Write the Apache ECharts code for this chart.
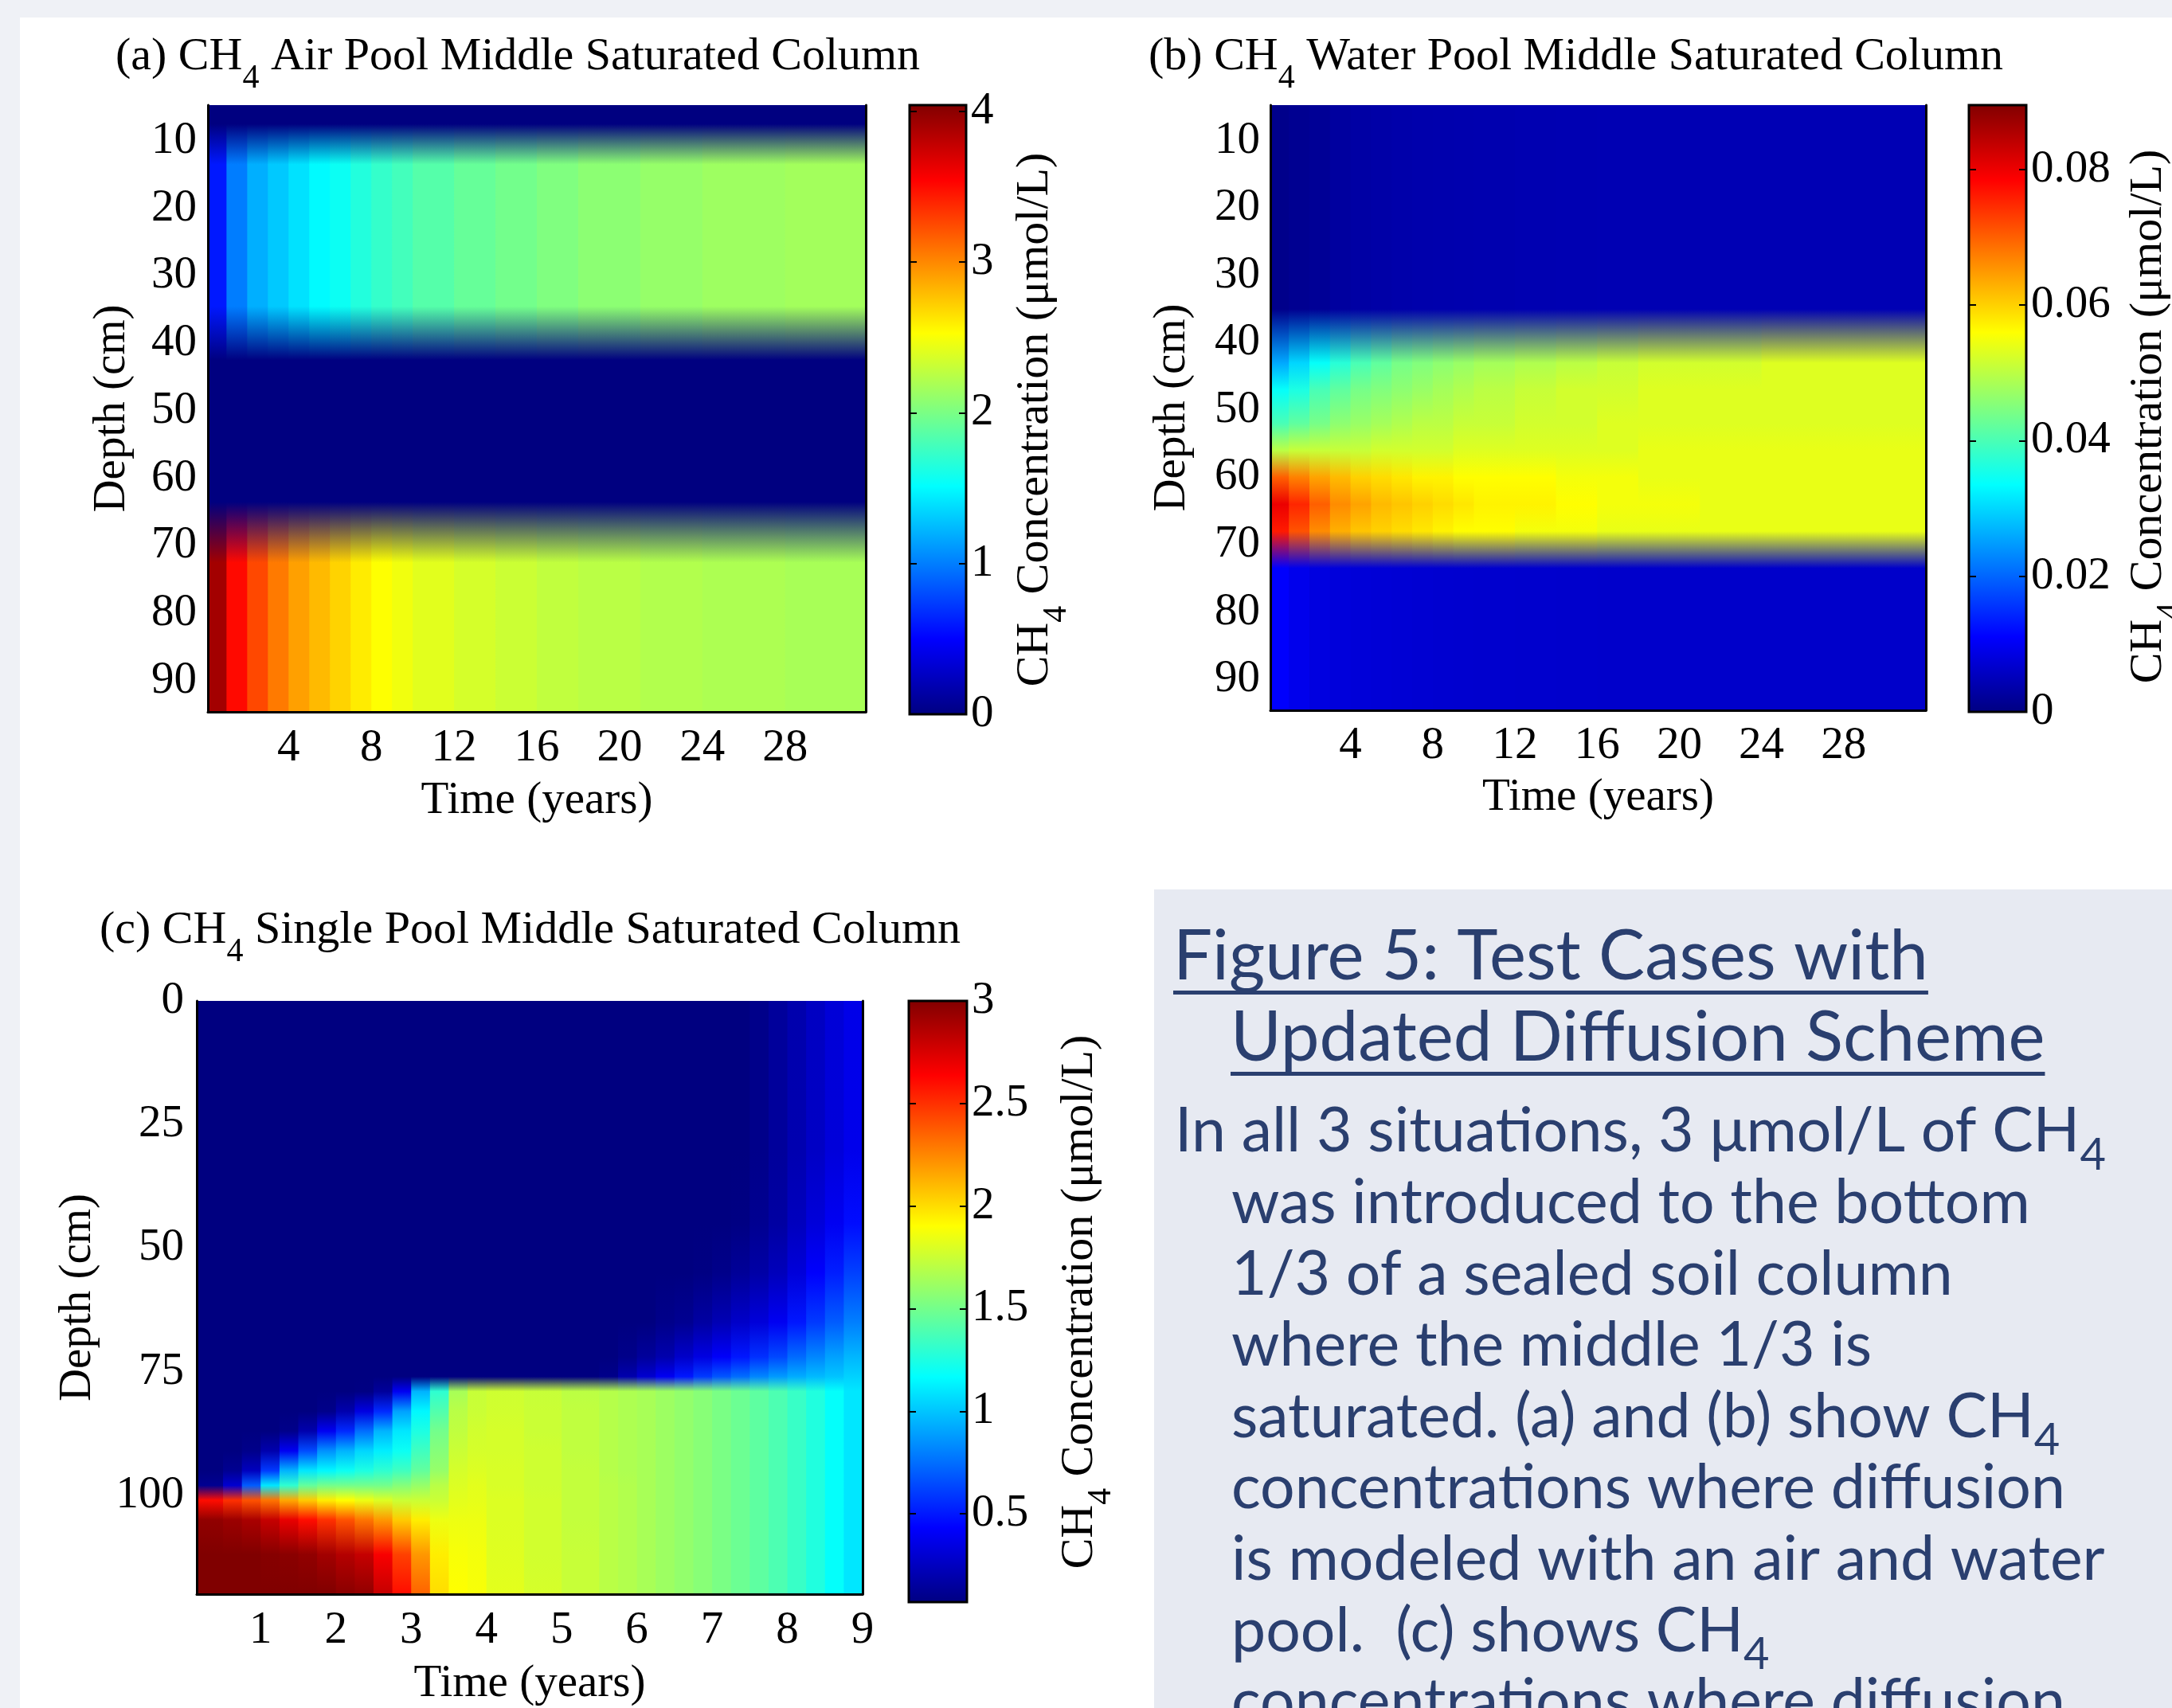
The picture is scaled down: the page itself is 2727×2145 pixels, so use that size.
<!DOCTYPE html>
<html><head><meta charset="utf-8">
<script src="https://cdn.jsdelivr.net/npm/echarts@6.0.0/dist/echarts.min.js"></script>
<style>html,body{margin:0;padding:0;background:#EFF1F6;}#main{width:2727px;height:2145px;}</style>
</head><body><div id="main"></div>
<script>
// ---------------- DATA ----------------
// Panel (a): CH4 air pool. Columns = time intervals (years), values at depth knots (cm), µmol/L
const timeEdgesA = [0.1,1,2,3,4,5,6,7,8,9,10,12,14,16,18,21,24,28,31.9];
const depthKnotsA = [7.5,13.5,34.5,42.5,63.5,72.5];
const concA = [
  [0,0.60,0.60,0,0,3.90],
  [0,1.00,1.00,0,0,3.50],
  [0,1.20,1.20,0,0,3.25],
  [0,1.30,1.30,0,0,3.05],
  [0,1.40,1.40,0,0,2.90],
  [0,1.50,1.50,0,0,2.80],
  [0,1.56,1.56,0,0,2.70],
  [0,1.65,1.65,0,0,2.60],
  [0,1.72,1.72,0,0,2.52],
  [0,1.78,1.78,0,0,2.47],
  [0,1.85,1.85,0,0,2.41],
  [0,1.92,1.92,0,0,2.36],
  [0,1.97,1.97,0,0,2.32],
  [0,2.02,2.02,0,0,2.28],
  [0,2.07,2.07,0,0,2.25],
  [0,2.11,2.11,0,0,2.22],
  [0,2.14,2.14,0,0,2.20],
  [0,2.16,2.16,0,0,2.18]
];
// Panel (b): CH4 water pool
const timeEdgesB = [0.1,1,2,3,4,5,6,7,8,9,10,12,14,16,18,21,24,28,32];
const depthKnotsB = [35,43,47,52,56,60,64,68,73.5];
const concB = [
  [0.0010,0.026,0.034,0.040,0.050,0.070,0.080,0.076,0.0110],
  [0.0015,0.030,0.036,0.042,0.051,0.067,0.075,0.071,0.0095],
  [0.0020,0.034,0.040,0.044,0.051,0.064,0.070,0.066,0.0085],
  [0.0028,0.037,0.042,0.046,0.051,0.062,0.066,0.063,0.0080],
  [0.0032,0.040,0.044,0.047,0.051,0.060,0.064,0.061,0.0078],
  [0.0035,0.042,0.045,0.048,0.052,0.059,0.062,0.060,0.0076],
  [0.0037,0.044,0.046,0.049,0.052,0.058,0.061,0.059,0.0074],
  [0.0039,0.045,0.047,0.050,0.052,0.057,0.060,0.058,0.0072],
  [0.0040,0.046,0.048,0.050,0.052,0.057,0.059,0.057,0.0071],
  [0.0041,0.047,0.049,0.051,0.053,0.056,0.058,0.056,0.0070],
  [0.0042,0.048,0.050,0.051,0.053,0.056,0.057,0.056,0.0069],
  [0.0043,0.049,0.051,0.052,0.053,0.056,0.057,0.055,0.0068],
  [0.0044,0.050,0.052,0.052,0.053,0.055,0.056,0.055,0.0067],
  [0.0045,0.051,0.052,0.053,0.053,0.055,0.055,0.054,0.0066],
  [0.0045,0.052,0.053,0.053,0.054,0.054,0.055,0.054,0.0066],
  [0.0046,0.052,0.053,0.053,0.054,0.054,0.054,0.054,0.0065],
  [0.0046,0.053,0.053,0.053,0.054,0.054,0.054,0.054,0.0065],
  [0.0046,0.053,0.053,0.053,0.054,0.054,0.054,0.054,0.0065]
];
// Panel (c): CH4 single pool
const timeEdgesC = [0.15,0.5,0.75,1,1.25,1.5,1.75,2,2.25,2.5,2.75,3,3.25,3.5,3.75,4,4.5,5,5.5,
                    5.75,6,6.25,6.5,6.75,7,7.25,7.5,7.75,8,8.25,8.5,8.75,9];
const depthKnotsC = [0,30,45,55,65,72,76,79,83,87,91,95,98,101,105,112,120];
const N = 0.07;
const concC = [
  [N,N,N,N,N,N,N, N,N,N,N,N,0.12,2.60,2.95,3.00,3.00],
  [N,N,N,N,N,N,N, N,N,N,N,0.12,0.30,2.50,2.92,3.00,3.00],
  [N,N,N,N,N,N,N, N,N,N,0.10,0.25,0.70,2.40,2.88,3.00,3.00],
  [N,N,N,N,N,N,N, N,N,N,0.20,0.60,1.10,2.30,2.80,2.98,3.00],
  [N,N,N,N,N,N,N, N,N,0.10,0.40,0.95,1.30,2.15,2.70,2.97,3.00],
  [N,N,N,N,N,N,N, N,N,0.20,0.65,1.10,1.45,2.05,2.60,2.95,3.00],
  [N,N,N,N,N,N,N, N,0.10,0.40,0.85,1.15,1.50,1.95,2.50,2.90,3.00],
  [N,N,N,N,N,N,N, N,0.20,0.55,0.95,1.20,1.50,1.90,2.40,2.85,2.97],
  [N,N,N,N,N,N,N, 0.08,0.35,0.75,1.05,1.25,1.50,1.85,2.30,2.80,2.95],
  [N,N,N,N,N,N,N, 0.15,0.55,0.95,1.12,1.30,1.50,1.80,2.20,2.65,2.80],
  [N,N,N,N,N,N,N, 0.40,0.90,1.10,1.20,1.35,1.55,1.75,2.05,2.45,2.60],
  [N,N,N,N,N,N,N, 0.95,1.15,1.25,1.35,1.45,1.60,1.75,1.95,2.20,2.35],
  [N,N,N,N,N,N,N, 1.30,1.40,1.50,1.55,1.60,1.70,1.75,1.85,1.95,2.00],
  [N,N,N,N,N,N,N, 1.65,1.70,1.72,1.75,1.78,1.80,1.82,1.85,1.88,1.90],
  [N,N,N,N,N,N,N, 1.74,1.75,1.77,1.78,1.80,1.82,1.83,1.85,1.87,1.88],
  [N,N,N,N,N,N,N, 1.76,1.77,1.78,1.78,1.79,1.79,1.80,1.80,1.81,1.82],
  [N,N,N,N,N,N,N, 1.74,1.75,1.75,1.76,1.76,1.76,1.77,1.77,1.77,1.78],
  [N,N,N,N,N,N,N, 1.71,1.72,1.72,1.72,1.73,1.73,1.73,1.73,1.74,1.74],
  [N,N,N,N,N,N,0.10, 1.69,1.69,1.69,1.69,1.69,1.70,1.70,1.70,1.70,1.70],
  [N,N,N,N,N,0.10,0.20, 1.67,1.67,1.67,1.67,1.67,1.68,1.68,1.68,1.68,1.68],
  [N,N,N,N,N,0.15,0.30, 1.65,1.65,1.65,1.65,1.65,1.65,1.65,1.65,1.65,1.65],
  [N,N,N,N,0.10,0.20,0.40, 1.62,1.62,1.62,1.62,1.62,1.62,1.62,1.62,1.62,1.62],
  [N,N,N,N,0.12,0.28,0.50, 1.59,1.59,1.59,1.59,1.59,1.59,1.59,1.59,1.59,1.59],
  [N,N,N,0.08,0.17,0.35,0.60, 1.56,1.56,1.56,1.56,1.56,1.56,1.56,1.56,1.56,1.56],
  [N,N,N,0.10,0.22,0.42,0.68, 1.52,1.52,1.52,1.52,1.52,1.52,1.52,1.52,1.52,1.52],
  [N,N,0.08,0.14,0.28,0.50,0.75, 1.48,1.48,1.48,1.48,1.48,1.48,1.48,1.48,1.48,1.48],
  [0.10,0.10,0.12,0.18,0.33,0.57,0.82, 1.44,1.44,1.44,1.44,1.44,1.44,1.44,1.44,1.44,1.44],
  [0.15,0.15,0.17,0.24,0.40,0.64,0.88, 1.39,1.39,1.39,1.39,1.39,1.39,1.39,1.39,1.39,1.39],
  [0.20,0.21,0.25,0.33,0.50,0.74,0.93, 1.33,1.33,1.33,1.33,1.33,1.33,1.33,1.33,1.33,1.33],
  [0.26,0.27,0.33,0.43,0.60,0.82,0.97, 1.26,1.26,1.26,1.26,1.26,1.26,1.26,1.26,1.26,1.26],
  [0.32,0.33,0.40,0.52,0.70,0.90,1.00, 1.18,1.18,1.18,1.18,1.18,1.18,1.18,1.18,1.18,1.18],
  [0.37,0.38,0.47,0.62,0.80,0.96,1.04, 1.10,1.10,1.10,1.10,1.10,1.10,1.10,1.10,1.10,1.10]
];
// Tick labels
const timeTicksAB = [4,8,12,16,20,24,28];
const depthTicksAB = [10,20,30,40,50,60,70,80,90];
const timeTicksC = [1,2,3,4,5,6,7,8,9];
const depthTicksC = [0,25,50,75,100];
const cbarTicksA = [0,1,2,3,4];
const cbarTicksB = [0,0.02,0.04,0.06,0.08];
const cbarTicksC = [0.5,1,1.5,2,2.5,3];
// Colour-scale ranges
const cbarRangeA = [0,4.04];
const cbarRangeB = [0,0.0895];
const cbarRangeC = [0.07,3];
// Texts
const titleA = ['(a) CH','4',' Air Pool Middle Saturated Column'];
const titleB = ['(b) CH','4',' Water Pool Middle Saturated Column'];
const titleC = ['(c) CH','4',' Single Pool Middle Saturated Column'];
const cbarTitle = ['CH','4',' Concentration (μmol/L)'];
const captionHead = ['Figure 5: Test Cases with','Updated Diffusion Scheme'];
const captionBody = [
  ['In all 3 situations, 3 μmol/L of CH','4'],
  ['was introduced to the bottom'],
  ['1/3 of a sealed soil column'],
  ['where the middle 1/3 is'],
  ['saturated. (a) and (b) show CH','4'],
  ['concentrations where diffusion'],
  ['is modeled with an air and water'],
  ['pool.  (c) shows CH','4'],
  ['concentrations where diffusion']
];

// ---------------- STYLE / BUILD ----------------
const SERIF = 'Liberation Serif';
const SANS = 'Lato';
const INK = '#2A3F6F';
const FS = 57;

function jet(f){
  f = Math.max(0, Math.min(1, f));
  const c = v => Math.round(255*Math.max(0, Math.min(1, v)));
  return 'rgb(' + c(Math.min(4*f-1.5, -4*f+4.5)) + ',' + c(Math.min(4*f-0.5, -4*f+3.5)) + ',' + c(Math.min(4*f+0.5, -4*f+2.5)) + ')';
}
const clamp01 = v => Math.max(0, Math.min(1, v));

function heatSeries(xi, yi, edges, knots, conc, crange, yr){
  return {
    type:'custom', coordinateSystem:'cartesian2d', xAxisIndex:xi, yAxisIndex:yi, silent:true, z:1,
    data: conc.map((col,i)=>[edges[i], edges[i+1], i]),
    renderItem: function(params, api){
      const i = api.value(2);
      const p0 = api.coord([api.value(0), yr[0]]);
      const p1 = api.coord([api.value(1), yr[1]]);
      const cs = params.coordSys;
      const x0 = Math.max(Math.min(p0[0],p1[0]), cs.x);
      const x1 = Math.min(Math.max(p0[0],p1[0]), cs.x+cs.width);
      const y0 = Math.min(p0[1],p1[1]), y1 = Math.max(p0[1],p1[1]);
      const stops = knots.map((d,k)=>({
        offset: clamp01((d-yr[0])/(yr[1]-yr[0])),
        color: jet((conc[i][k]-crange[0])/(crange[1]-crange[0]))
      }));
      return {type:'rect', shape:{x:x0, y:y0, width:Math.min(x1-x0+1.5, cs.x+cs.width-x0), height:y1-y0},
        style:{fill:new echarts.graphic.LinearGradient(0,0,0,1,stops)}};
    }
  };
}
function cbarSeries(xi, yi, crange){
  const jetStops = [0,0.125,0.375,0.625,0.875,1].map(f=>({offset:f, color:jet(f)}));
  return {
    type:'custom', coordinateSystem:'cartesian2d', xAxisIndex:xi, yAxisIndex:yi, silent:true, z:1,
    data:[[crange[0], crange[1]]],
    renderItem: function(params, api){
      const p0 = api.coord([0, api.value(1)]);
      const p1 = api.coord([1, api.value(0)]);
      return {type:'rect', shape:{x:p0[0], y:p0[1], width:p1[0]-p0[0], height:p1[1]-p0[1]},
        style:{fill:new echarts.graphic.LinearGradient(0,1,0,0,jetStops), stroke:'#000', lineWidth:3}};
    }
  };
}
const lbl = {fontFamily:SERIF, fontSize:FS, color:'#000'};
function plotX(g, min, max, ticks, margin, gap){
  return {gridIndex:g, type:'value', min, max, z:5,
    axisLine:{show:true, onZero:false, lineStyle:{color:'#000', width:3}},
    axisTick:{show:false}, splitLine:{show:false},
    axisLabel:Object.assign({customValues:ticks, margin}, lbl),
    name:'Time (years)', nameLocation:'middle', nameGap:gap, nameTextStyle:lbl};
}
function plotY(g, min, max, ticks, margin, gap){
  return {gridIndex:g, type:'value', min, max, inverse:true, position:'left', z:5,
    axisLine:{show:true, onZero:false, lineStyle:{color:'#000', width:3}},
    axisTick:{show:false}, splitLine:{show:false},
    axisLabel:Object.assign({customValues:ticks, margin}, lbl),
    name:'Depth (cm)', nameLocation:'middle', nameGap:gap, nameTextStyle:lbl};
}
function plotYR(g, min, max){
  return {gridIndex:g, type:'value', min, max, inverse:true, position:'right', z:5,
    axisLine:{show:true, onZero:false, lineStyle:{color:'#000', width:3}},
    axisTick:{show:false}, splitLine:{show:false}, axisLabel:{show:false}};
}
function cbX(g){ return {gridIndex:g, type:'value', min:0, max:1, show:false}; }
function cbYL(g, r, ticks){
  return {gridIndex:g, type:'value', min:r[0], max:r[1], position:'left', z:5,
    axisLine:{show:false}, splitLine:{show:false}, axisLabel:{show:false},
    axisTick:{show:true, inside:true, length:9, customValues:ticks, lineStyle:{color:'#000', width:2}}};
}
function cbYR(g, r, ticks){
  return {gridIndex:g, type:'value', min:r[0], max:r[1], position:'right', z:5,
    axisLine:{show:false}, splitLine:{show:false},
    axisTick:{show:true, inside:true, length:9, customValues:ticks, lineStyle:{color:'#000', width:2}},
    axisLabel:Object.assign({customValues:ticks, margin:6}, lbl)};
}

const yrA = [4.7,94.6], yrB = [4.7,94.6], yrC = [0,120];

// graphic texts
const richG = {
  m:{fontFamily:SERIF, fontSize:58, lineHeight:66, verticalAlign:'top', fill:'#000'},
  s:{fontFamily:SERIF, fontSize:42, lineHeight:112, fill:'#000'}
};
function richText(parts){ return '{m|'+parts[0]+'}{s|'+parts[1]+'}{m|'+parts[2]+'}'; }
function titleEl(parts, x, yCenter){
  return {type:'text', x, y:yCenter-33, z:50, silent:true,
    style:{text:richText(parts), rich:richG, verticalAlign:'top', align:'left'}};
}
// rotated colour-bar title: xCenter = centre of main glyph column, yCenter = centre along text
function cbarTitleEl(xCenter, yCenter){
  return {type:'text', x:xCenter-28, y:yCenter, rotation:Math.PI/2, z:50, silent:true,
    style:{text:richText(cbarTitle), rich:richG, verticalAlign:'top', align:'center'}};
}
const mctx = document.createElement('canvas').getContext('2d');
function textW(str, font){ mctx.font = font; return mctx.measureText(str).width; }

const HEAD_FS = 87, BODY_FS = 77;
const elements = [
  {type:'rect', z:-10, silent:true, shape:{x:25, y:22, width:2702, height:2123}, style:{fill:'#FFFFFF'}},
  {type:'rect', z:-9, silent:true, shape:{x:1449, y:1117, width:1278, height:1028}, style:{fill:'#E7EAF2'}},
  titleEl(titleA, 145, 76),
  titleEl(titleB, 1442, 76),
  titleEl(titleC, 125, 1173),
  cbarTitleEl(1299, 527),
  cbarTitleEl(2697, 523),
  cbarTitleEl(1355, 1635)
];
const headX = [1473, 1545], headBase = [1236, 1338];
captionHead.forEach((t,i)=>{
  elements.push({type:'text', x:headX[i], y:headBase[i]-34, z:50, silent:true,
    style:{text:t, fontFamily:SANS, fontSize:HEAD_FS, fill:INK, verticalAlign:'middle', align:'left'}});
  const w = textW(t, HEAD_FS+'px '+SANS);
  elements.push({type:'rect', z:50, silent:true, shape:{x:headX[i], y:headBase[i]+8, width:w, height:5}, style:{fill:INK}});
});
const bodyRich = {
  m:{fontFamily:SANS, fontSize:BODY_FS, lineHeight:90, verticalAlign:'top', fill:INK},
  s:{fontFamily:SANS, fontSize:56, lineHeight:136, fill:INK}
};
captionBody.forEach((p,i)=>{
  const base = 1458 + 89.6*i;
  let txt = '{m|'+p[0]+'}';
  if (p[1]) txt += '{s|'+p[1]+'}';
  elements.push({type:'text', x:(i===0?1475:1546), y:base-30-45, z:50, silent:true,
    style:{text:txt, rich:bodyRich, verticalAlign:'top', align:'left'}});
});

const option = {
  backgroundColor:'#EFF1F6',
  animation:false,
  grid:[
    {left:261, top:132, width:826, height:762},
    {left:1142, top:132, width:71, height:765},
    {left:1595, top:132, width:823, height:760},
    {left:2472, top:132, width:72, height:762},
    {left:247, top:1257, width:836, height:752},
    {left:1141, top:1257, width:73, height:755}
  ],
  xAxis:[
    plotX(0, 0.1, 31.9, timeTicksAB, 18, 84),
    cbX(1),
    plotX(2, 0.1, 32, timeTicksAB, 17, 82),
    cbX(3),
    plotX(4, 0.15, 9, timeTicksC, 18, 85),
    cbX(5)
  ],
  yAxis:[
    plotY(0, yrA[0], yrA[1], depthTicksAB, 14, 91),
    plotYR(0, yrA[0], yrA[1]),
    cbYL(1, cbarRangeA, cbarTicksA),
    cbYR(1, cbarRangeA, cbarTicksA),
    plotY(2, yrB[0], yrB[1], depthTicksAB, 13, 94),
    plotYR(2, yrB[0], yrB[1]),
    cbYL(3, cbarRangeB, cbarTicksB),
    cbYR(3, cbarRangeB, cbarTicksB),
    plotY(4, yrC[0], yrC[1], depthTicksC, 16, 120),
    plotYR(4, yrC[0], yrC[1]),
    cbYL(5, cbarRangeC, cbarTicksC),
    cbYR(5, cbarRangeC, cbarTicksC)
  ],
  series:[
    heatSeries(0, 0, timeEdgesA, depthKnotsA, concA, cbarRangeA, yrA),
    cbarSeries(1, 3, cbarRangeA),
    heatSeries(2, 4, timeEdgesB, depthKnotsB, concB, cbarRangeB, yrB),
    cbarSeries(3, 7, cbarRangeB),
    heatSeries(4, 8, timeEdgesC, depthKnotsC, concC, cbarRangeC, yrC),
    cbarSeries(5, 11, cbarRangeC)
  ],
  graphic:{elements}
};
const chart = echarts.init(document.getElementById('main'), null, {width:2727, height:2145, renderer:'canvas'});
chart.setOption(option);
</script></body></html>
